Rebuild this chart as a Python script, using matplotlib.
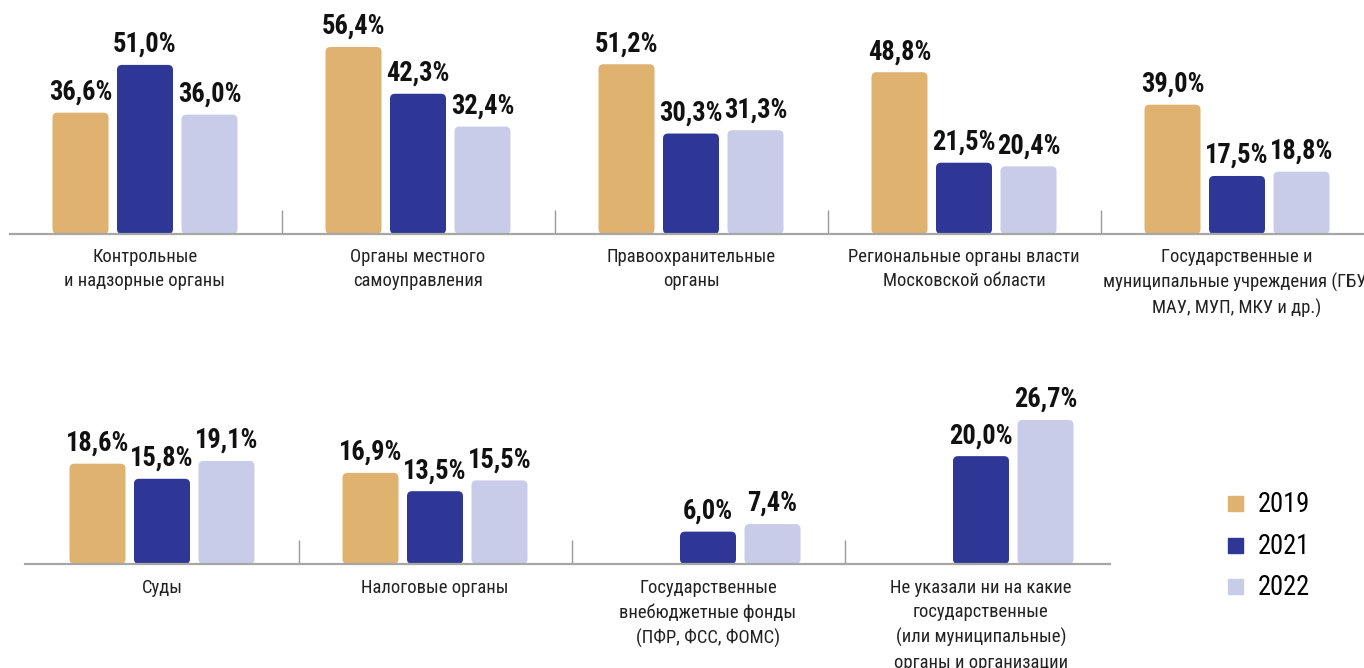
import numpy as np
import matplotlib
matplotlib.use("Agg")
import matplotlib.pyplot as plt
import matplotlib.font_manager as fm
from matplotlib.patches import FancyBboxPatch
from matplotlib.lines import Line2D

# data
years = ["2019", "2021", "2022"]
colors = ["#DFB270", "#2E3796", "#C8CCE8"]

top_cats = ["Контрольные\nи надзорные органы",
            "Органы местного\nсамоуправления",
            "Правоохранительные\nорганы",
            "Региональные органы власти\nМосковской области",
            "Государственные и\nмуниципальные учреждения (ГБУ,\nМАУ, МУП, МКУ и др.)"]
top_2019 = [36.6, 56.4, 51.2, 48.8, 39.0]
top_2021 = [51.0, 42.3, 30.3, 21.5, 17.5]
top_2022 = [36.0, 32.4, 31.3, 20.4, 18.8]

bot_cats = ["Суды",
            "Налоговые органы",
            "Государственные\nвнебюджетные фонды\n(ПФР, ФСС, ФОМС)",
            "Не указали ни на какие\nгосударственные\n(или муниципальные)\nорганы и организации"]
bot_2019 = [18.6, 16.9, np.nan, np.nan]
bot_2021 = [15.8, 13.5, 6.0, 20.0]
bot_2022 = [19.1, 15.5, 7.4, 26.7]

# font
names = {f.name for f in fm.fontManager.ttflist}
family = "DejaVu Sans"
for cand in ["Roboto Condensed", "Liberation Sans Narrow", "Roboto"]:
    if cand in names:
        family = cand
        break
plt.rcParams["font.family"] = [family, "DejaVu Sans"]

W, H = 1364, 668
PX = 0.72  # points per pixel
fig = plt.figure(figsize=(W / 100, H / 100), dpi=100)

STEP = 273.0       # pixels between groups
BAR_W = 56 / STEP
OFF = 64.5 / STEP


def make_axes(left, right, base, top, c0, px_per_unit):
    ax = fig.add_axes([left / W, (H - base) / H, (right - left) / W, (base - top) / H])
    ax.set_xlim((left - c0) / STEP, (right - c0) / STEP)
    ax.set_ylim(0, (base - top) / px_per_unit)
    for s in ["top", "left", "right"]:
        ax.spines[s].set_visible(False)
    ax.spines["bottom"].set_color("#a6a6a6")
    ax.spines["bottom"].set_linewidth(1.6)
    ax.set_xticks([])
    ax.set_yticks([])
    ax.patch.set_alpha(0)
    return ax


def draw_row(ax, cats, series, px_per_unit, label_off):
    x = np.arange(len(cats))
    aspect = STEP / px_per_unit
    r = 5 / STEP
    for k, vals in enumerate(series):
        vals = np.array(vals, dtype=float)
        ok = ~np.isnan(vals)
        bars = ax.bar(x[ok] + (k - 1) * OFF, vals[ok], width=BAR_W, color=colors[k])
        for rect, v in zip(bars, vals[ok]):
            rect.set_visible(False)
            p = FancyBboxPatch((rect.get_x(), 0), rect.get_width(), rect.get_height(),
                               boxstyle=f"round,pad=0,rounding_size={r}",
                               mutation_aspect=aspect, fc=colors[k], ec="none")
            ax.add_patch(p)
            ax.annotate(f"{v:.1f}%".replace(".", ","), (rect.get_x() + rect.get_width() / 2, v),
                        xytext=(0, 7 * PX), textcoords="offset points",
                        ha="center", va="bottom", fontsize=26.5 * PX, fontweight="bold",
                        color="#111111")
    # separators
    ax.vlines(x[:-1] + 0.5, 0, 24 / px_per_unit, color="#9a9a9a", lw=1.0)
    for i, c in enumerate(cats):
        ax.annotate(c, (i, 0), xytext=(0, -label_off * PX), textcoords="offset points",
                    ha="center", va="top", fontsize=18.6 * PX, linespacing=1.45,
                    color="#222222", annotation_clip=False)


top_scale = 187 / 56.4
ax1 = make_axes(10, 1364, 234, 0, 145, top_scale)
draw_row(ax1, top_cats, [top_2019, top_2021, top_2022], top_scale, 14)

bot_scale = 144 / 26.7
ax2 = make_axes(25, 1110, 564, 380, 162, bot_scale)
draw_row(ax2, bot_cats, [bot_2019, bot_2021, bot_2022], bot_scale, 15)

handles = [Line2D([], [], marker="s", ls="", markersize=15 * PX, color=c) for c in colors]
fig.legend(handles, years, loc="upper left", bbox_to_anchor=(1211 / W, (H - 478) / H),
           frameon=False, fontsize=26.5 * PX, handlelength=0.8, handletextpad=0.45,
           labelspacing=0.55, borderpad=0)

fig.savefig("out.png", dpi=100)
